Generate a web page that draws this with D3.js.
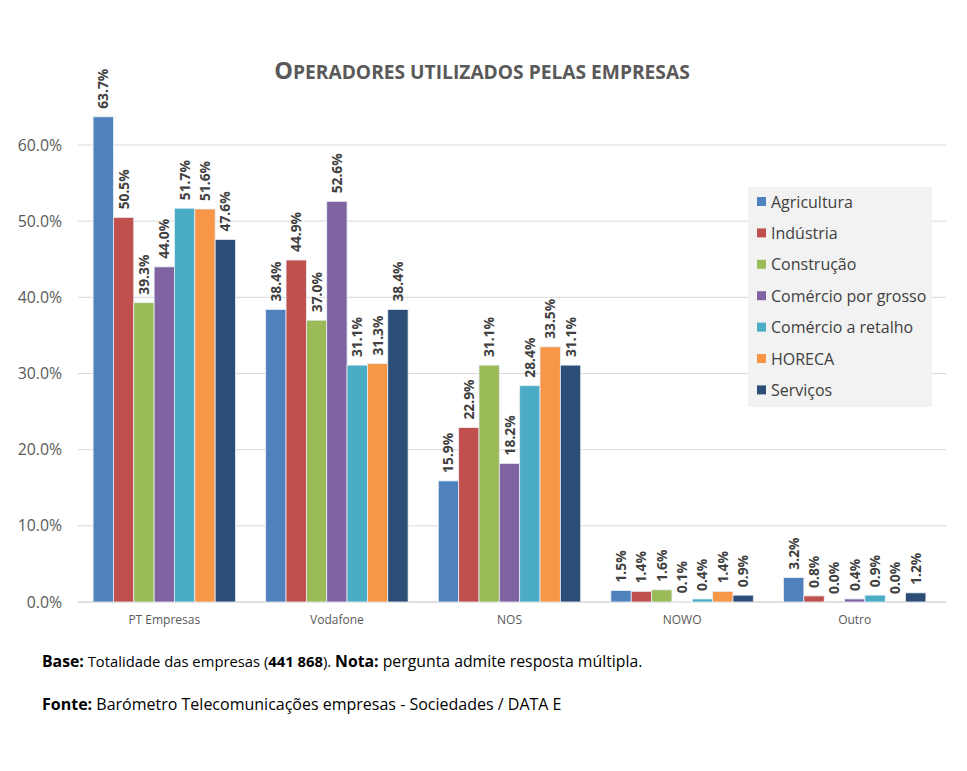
<!DOCTYPE html>
<html><head><meta charset="utf-8">
<script src="https://cdn.jsdelivr.net/npm/d3@7"></script>
<style>
body{margin:0;background:#fff;}
text{font-family:"Open Sans",sans-serif;}
</style></head>
<body><svg id="c" width="967" height="771"></svg>
<script>
const categories = ["PT Empresas","Vodafone","NOS","NOWO","Outro"];
const seriesNames = ["Agricultura","Indústria","Construção","Comércio por grosso","Comércio a retalho","HORECA","Serviços"];
const colors = ["#4F81BD","#C0504D","#9BBB59","#8064A2","#4BACC6","#F79646","#2C4D75"];
const agricultura = [63.7,38.4,15.9,1.5,3.2];
const industria = [50.5,44.9,22.9,1.4,0.8];
const construcao = [39.3,37.0,31.1,1.6,0.0];
const comercioGrosso = [44.0,52.6,18.2,0.1,0.4];
const comercioRetalho = [51.7,31.1,28.4,0.4,0.9];
const horeca = [51.6,31.3,33.5,1.4,0.0];
const servicos = [47.6,38.4,31.1,0.9,1.2];
const yTicks = [0,10,20,30,40,50,60];

const series = [agricultura,industria,construcao,comercioGrosso,comercioRetalho,horeca,servicos];
const svg = d3.select("#c");
const left = 78, right = 941, y0 = 602, y60 = 145;
const x = d3.scaleBand().domain(categories).range([left,right]).paddingInner(0.175).paddingOuter(0.0875);
const xs = d3.scaleBand().domain(seriesNames).range([0,x.bandwidth()]);
const y = d3.scaleLinear().domain([0,60]).range([y0,y60]);

// gridlines
svg.append("g").selectAll("line").data(yTicks).join("line")
  .attr("x1",left).attr("x2",946).attr("y1",d=>y(d)).attr("y2",d=>y(d))
  .attr("stroke",d=>d===0?"#BFBFBF":"#D9D9D9").attr("stroke-width",1);

// y axis labels
svg.append("g").selectAll("text").data(yTicks).join("text")
  .attr("x",62).attr("y",d=>y(d)+5.5).attr("text-anchor","end")
  .attr("font-size",15.8).attr("fill","#595959").text(d=>d.toFixed(1)+"%");

// x axis labels
svg.append("g").selectAll("text").data(categories).join("text")
  .attr("x",d=>x(d)+x.bandwidth()/2).attr("y",624).attr("text-anchor","middle")
  .attr("font-size",12).attr("fill","#595959").text(d=>d);

// bars
seriesNames.forEach((s,i)=>{
  const g = svg.append("g");
  g.selectAll("rect").data(series[i]).join("rect")
    .attr("x",(d,j)=>x(categories[j])+xs(s))
    .attr("y",d=>y(d)).attr("width",xs.bandwidth()).attr("height",d=>y0-y(d))
    .attr("fill",colors[i]).attr("stroke","#E8EEF6").attr("stroke-width",0.8);
  g.selectAll("text").data(series[i]).join("text")
    .attr("transform",(d,j)=>`translate(${x(categories[j])+xs(s)+xs.bandwidth()/2+5},${y(d)-8}) rotate(-90)`)
    .attr("font-size",13.8).attr("font-weight","bold").attr("fill","#404040")
    .text(d=>d.toFixed(1)+"%");
});

// title (manual small caps)
const t = svg.append("text").attr("x",482).attr("y",79).attr("text-anchor","middle")
  .attr("font-weight","bold").attr("fill","#595959");
t.append("tspan").attr("font-size",23.5).text("O");
t.append("tspan").attr("font-size",19.2).text("PERADORES UTILIZADOS PELAS EMPRESAS");

// legend
const lg = svg.append("g");
lg.append("rect").attr("x",748).attr("y",187).attr("width",184).attr("height",220).attr("fill","#F2F2F2");
const li = lg.selectAll("g").data(seriesNames).join("g")
  .attr("transform",(d,i)=>`translate(757,${202+i*31.4})`);
li.append("rect").attr("x",0).attr("y",-5).attr("width",9).attr("height",9).attr("fill",(d,i)=>colors[i]);
li.append("text").attr("x",14).attr("y",5.5).attr("font-size",16).attr("fill","#404040").text(d=>d);

// footnotes
const f1 = svg.append("text").attr("x",42).attr("y",667).attr("font-size",15.8).attr("fill","#000");
f1.append("tspan").attr("font-weight","bold").text("Base:");
f1.append("tspan").attr("font-size",14.8).text(" Totalidade das empresas (");
f1.append("tspan").attr("font-weight","bold").attr("font-size",14.8).text("441 868");
f1.append("tspan").attr("font-size",14.8).text(").  ");
f1.append("tspan").attr("font-weight","bold").text("Nota:");
f1.append("tspan").text(" pergunta admite resposta múltipla.");
const f2 = svg.append("text").attr("x",42).attr("y",710).attr("font-size",16).attr("fill","#000");
f2.append("tspan").attr("font-weight","bold").text("Fonte:");
f2.append("tspan").text(" Barómetro Telecomunicações empresas - Sociedades / DATA E");
</script></body></html>
